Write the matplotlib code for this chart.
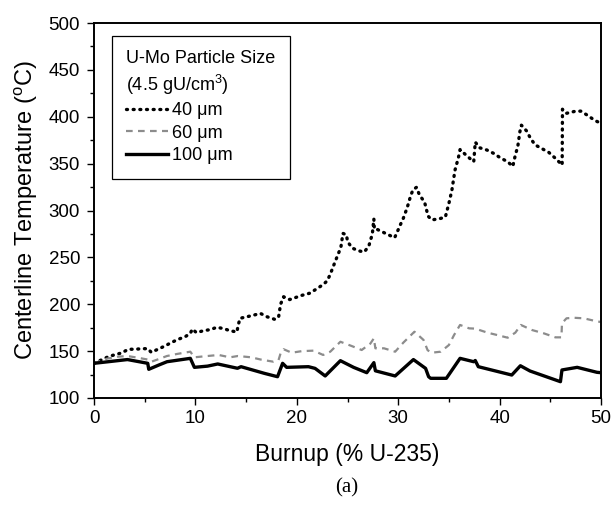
import matplotlib
matplotlib.use("Agg")
import matplotlib.pyplot as plt
from matplotlib.ticker import MultipleLocator

# ---- data ----
x40 = [0, 0.7, 1.4, 2.0, 2.7, 3.4, 4.0, 4.8, 5.3, 5.65, 6.3, 7.0, 7.6, 8.3, 9.0, 9.5, 9.7,
       10.1, 10.8, 11.5, 12.1, 12.8, 13.4, 14.1, 14.2, 14.4, 15.1, 15.8, 16.4, 17.05, 17.8,
       18.2, 18.4, 18.7, 19.3, 20.5, 21.25, 21.9, 22.6, 23.0, 23.3, 23.8, 24.1, 24.35, 24.55,
       24.9, 25.0, 25.45, 26.1, 26.65, 27.1, 27.45, 27.6, 27.65, 27.9, 29.05, 29.65, 29.9,
       30.2, 30.5, 30.8, 31.0, 31.2, 31.45, 31.8, 32.1, 32.6, 32.95, 33.3, 34.0, 34.65, 35.0,
       35.3, 35.6, 35.95, 36.1, 36.8, 37.45, 37.6, 38.0, 38.75, 39.4, 40.1, 40.8, 41.3, 41.55,
       41.8, 42.0, 42.15, 42.65, 43.05, 43.5, 44.85, 45.5, 46.17, 46.2, 46.6, 47.4, 48.0,
       48.6, 49.4, 50]
T40 = [137, 140.5, 144, 146, 148, 152, 152, 152.6, 152.6, 148.7, 152, 155.5, 159, 162.6,
       165.4, 169, 173.6, 169.7, 171.8, 173, 175.4, 174, 171.8, 170.4, 176.8, 185, 186.7,
       188.5, 190.3, 186.7, 184, 186, 200, 208, 205, 209.5, 211.7, 216, 221, 225, 232, 246,
       254, 261, 275.6, 274, 267, 260, 257, 255.7, 262, 275, 291, 280, 280, 274, 271, 277,
       284.5, 291.6, 300.5, 307, 314.7, 322, 324.7, 316.5, 309, 294, 290, 291, 293, 307.6,
       322, 343, 357, 365, 358, 352, 373, 367, 364.5, 361, 356, 352, 347, 359, 368.8, 384,
       391, 385, 377, 370, 362, 355.7, 348.5, 408, 403.7, 405.7, 406, 402, 396, 393]

x60 = [0, 1.3, 2.3, 3.3, 4.3, 5.3, 5.66, 6.25, 7.2, 8.2, 9.5, 9.9, 11.2, 12.3, 13.4, 14.2,
       15.5, 16.45, 17.7, 18.2, 18.4, 18.7, 19.5, 20.5, 21.65, 22.6, 23.3, 24.3, 25.4, 26.4,
       27.25, 27.6, 27.75, 28.6, 29.7, 30.5, 31.6, 32.5, 32.9, 33.3, 34.2, 35.0, 35.5, 36.1,
       37.0, 37.6, 38.8, 39.75, 40.8, 41.55, 42.1, 43.2, 44.35, 45.5, 46.1, 46.15, 46.6, 47.3,
       48.3, 49.45, 50]
T60 = [137, 142, 144, 144.8, 143, 141, 138.7, 141, 144.8, 147, 149.4, 143.4, 144.8, 145.9,
       143.4, 144.8, 143.4, 141, 138.7, 140.5, 147.6, 152, 148.3, 150, 150.5, 145.9, 149.4,
       160, 155.5, 151.2, 158, 163.6, 153, 153, 149.4, 159, 170.7, 161.9, 151, 148.3, 149.4,
       156.5, 167, 177.9, 174.3, 174, 169.7, 167.2, 164.3, 169.7, 177.9, 172.5, 169, 164.7,
       164.7, 179.7, 185, 185.6, 185, 182.1, 181]

x100 = [0, 3.3, 5.3, 5.4, 6.4, 7.2, 9.5, 9.9, 11.2, 12.2, 14.15, 14.5, 16.8, 18.1, 18.6,
        19.0, 21.15, 21.8, 22.8, 24.3, 25.6, 26.9, 27.6, 27.75, 29.7, 31.5, 32.7, 33.0, 33.2,
        34.75, 36.1, 37.45, 37.6, 37.9, 41.2, 42.05, 43.0, 46.0, 46.15, 47.65, 49.6, 50]
T100 = [137, 141, 137, 130.6, 135.2, 138.7, 142.3, 132.7, 134, 136.3, 131.7, 133.4, 126.3,
        122.7, 137, 132.7, 133.4, 131.6, 123.5, 139.8, 132.7, 127, 137.7, 129, 123.5, 141,
        131.6, 122.7, 121, 121, 142.3, 138.7, 140, 133.4, 124.5, 134.4, 128.8, 117.4, 129.9,
        132.7, 127.4, 127]

labels = ["40 μm", "60 μm", "100 μm"]
legend_title = "U-Mo Particle Size\n(4.5 gU/cm$^3$)"
xlabel = "Burnup (% U-235)"
ylabel = "Centerline Temperature ($^{\\rm o}$C)"
caption = "(a)"

plt.rcParams['font.family'] = ['Liberation Sans', 'DejaVu Sans']
plt.rcParams['mathtext.fontset'] = 'custom'
plt.rcParams['mathtext.rm'] = 'Liberation Sans'

fig = plt.figure(figsize=(6.13, 5.13), dpi=100)
ax = fig.add_axes([94/613, 1-398/513, (601-94)/613, (398-23)/513])

l40, = ax.plot(x40, T40, color='black', lw=2.4, linestyle=(0, (0.3, 1.7)),
               dash_capstyle='round', solid_joinstyle='round')
l60, = ax.plot(x60, T60, color='#8c8c8c', lw=1.6, linestyle=(0, (3, 2.4)))
l100, = ax.plot(x100, T100, color='black', lw=2.4)

ax.set_xlim(0, 50)
ax.set_ylim(100, 500)
ax.xaxis.set_major_locator(MultipleLocator(10))
ax.xaxis.set_minor_locator(MultipleLocator(5))
ax.yaxis.set_major_locator(MultipleLocator(50))
ax.yaxis.set_minor_locator(MultipleLocator(25))
ax.tick_params(which='both', direction='out', top=False, right=False, width=1.0,
               labelsize=13.5, colors='black')
ax.tick_params(which='major', length=5)
ax.tick_params(which='minor', length=3)
ax.tick_params(axis='y', which='major', pad=5)
for s in ax.spines.values():
    s.set_linewidth(1.4)
    s.set_color('black')

ax.set_xlabel(xlabel, fontsize=16.5, labelpad=12)
ax.set_ylabel(ylabel, fontsize=17, labelpad=6)

leg = ax.legend([l40, l60, l100], labels, title=legend_title, loc='upper left',
                bbox_to_anchor=((112-94)/507, (398-36)/375), borderaxespad=0,
                fontsize=13, title_fontsize=13, frameon=True, fancybox=False,
                edgecolor='black', framealpha=1, handlelength=2.3, handletextpad=0.2,
                labelspacing=0.3, borderpad=0.8, alignment='left')
leg.get_frame().set_linewidth(0.9)
leg.get_title().set_linespacing(1.3)

fig.text(347/613, 1-488/513, caption, fontsize=15, family='Liberation Serif',
         ha='center', va='center')

fig.savefig("out.png", dpi=100)
